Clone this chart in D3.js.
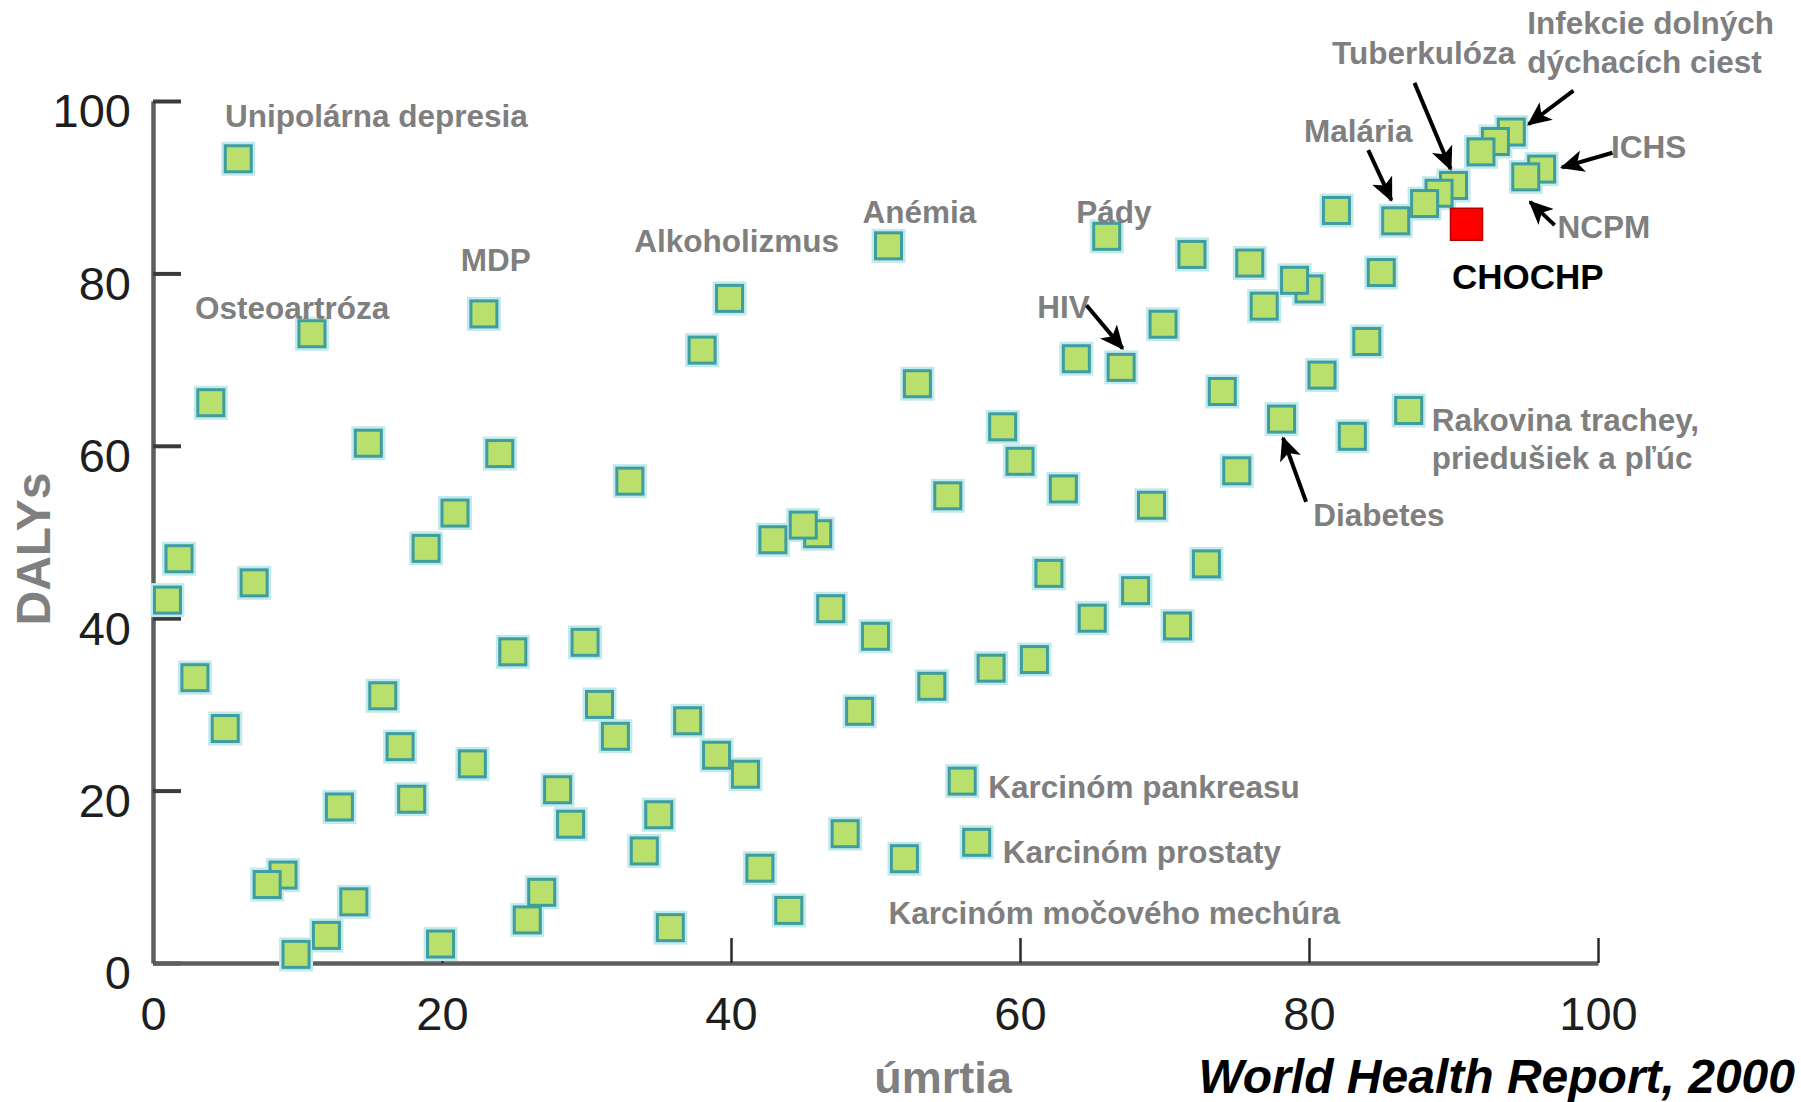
<!DOCTYPE html>
<html>
<head>
<meta charset="utf-8">
<script src="https://cdn.jsdelivr.net/npm/d3@7"></script>
<style>
  body { margin: 0; background: #fff; }
  text { font-family: "Liberation Sans", Arial, sans-serif; }
</style>
</head>
<body>
<div id="chart-container"></div>
<script>
// choroby: úmrtia (x) a DALYs (y), odčítané z obrázka
const umrtia = [5.9, 11.0, 22.9, 4.0, 14.9, 24.0, 33.0, 20.9, 18.9, 1.8, 7.0, 1.0, 24.9, 29.9, 2.9, 15.9,
    30.9, 5.0, 32.0, 17.1, 22.1, 28.0, 12.9, 17.9, 28.9, 34.0, 9.0, 7.9, 13.9, 26.9, 25.9, 12.0, 9.9, 19.9,
    35.8, 35.0, 37.0, 39.0, 41.0, 42.0, 44.0, 47.9, 52.0, 56.0, 57.0, 48.9, 53.9, 58.0, 61.0, 50.0, 46.9,
    42.9, 46.0, 45.0, 62.0, 68.0, 65.0, 70.9, 72.9, 39.9, 38.0, 50.9, 52.9, 55.0, 58.8, 60.0, 63.0, 63.9,
    67.0, 66.0, 69.1, 69.9, 71.9, 75.9, 80.0, 79.0, 76.9, 74.0, 75.0, 78.1, 80.9, 83.0, 84.0, 85.0, 86.9,
    81.9, 90.0, 89.0, 88.0, 86.0, 94.0, 92.9, 91.9, 96.1, 95.0];
const dalys = [93.3, 73.0, 75.3, 65.0, 60.3, 59.1, 55.9, 52.2, 48.1, 46.9, 44.1, 42.1, 36.1, 37.2, 33.1, 31.0,
    30.0, 27.2, 26.3, 25.1, 23.1, 20.1, 18.1, 19.0, 16.1, 13.0, 10.2, 9.1, 7.1, 8.2, 5.0, 3.2, 1.0, 2.2,
    4.1, 17.2, 28.1, 24.1, 21.9, 11.0, 6.1, 15.0, 12.1, 21.1, 14.0, 29.2, 32.1, 34.2, 35.2, 37.9, 41.1,
    49.1, 49.8, 50.8, 45.2, 43.2, 40.0, 39.1, 46.3, 77.1, 71.1, 83.2, 67.2, 54.2, 62.2, 58.2, 55.0, 70.1,
    69.1, 84.3, 53.1, 74.1, 82.2, 81.2, 78.2, 79.2, 76.2, 66.3, 57.1, 63.1, 68.2, 61.1, 72.1, 80.1, 64.1,
    87.3, 90.2, 89.3, 88.1, 86.1, 96.4, 95.3, 94.1, 92.1, 91.2];

// CHOCHP - zvýraznený bod
const chochp = { umrtia: 90.9, dalys: 85.7 };

const xTicks = [0, 20, 40, 60, 80, 100];
const yTicks = [0, 20, 40, 60, 80, 100];

// popisky: text, ľavý okraj a základná čiara v jednotkách osí
const labelTexts = ["Unipolárna depresia", "Osteoartróza", "MDP", "Alkoholizmus", "Anémia", "Pády", "HIV",
    "Malária", "Tuberkulóza", "Infekcie dolných", "dýchacích ciest", "ICHS", "NCPM",
    "Rakovina trachey,", "priedušiek a pľúc", "Diabetes", "Karcinóm pankreasu", "Karcinóm prostaty",
    "Karcinóm močového mechúra"];
const labelX = [4.98, 2.91, 21.3, 33.3, 49.1, 63.9, 61.2, 79.65, 81.6, 95.1, 95.1, 100.9, 97.2,
    88.5, 88.5, 80.3, 57.8, 58.8, 50.9];
const labelY = [97.0, 74.7, 80.3, 82.5, 85.9, 85.9, 74.8, 95.2, 104.3, 107.8, 103.2, 93.4, 84.1,
    61.7, 57.3, 50.75, 19.1, 11.6, 4.5];

// šípky: [x1, y1, x2, y2] v jednotkách osí
const arrows = [
    [64.6, 76.3, 67.1, 71.3],   // HIV
    [84.1, 94.3, 85.7, 88.5],   // Malária
    [87.3, 102.1, 89.8, 92.1],  // Tuberkulóza
    [98.3, 101.2, 95.2, 97.3],  // Infekcie
    [101.0, 94.0, 97.5, 92.3],  // ICHS
    [97.0, 85.6, 95.3, 88.3],   // NCPM
    [79.8, 53.5, 78.2, 60.9]    // Diabetes
];

const width = 1801;
const height = 1102;

const svg = d3.select("#chart-container")
    .append("svg")
    .attr("width", width)
    .attr("height", height)
    .style("background", "#fff");

const xScale = d3.scaleLinear().domain([0, 100]).range([153, 1598]);
const yScale = d3.scaleLinear().domain([0, 100]).range([963, 101]);

// arrow head
svg.append("defs").append("marker")
    .attr("id", "head")
    .attr("markerUnits", "userSpaceOnUse")
    .attr("markerWidth", 24)
    .attr("markerHeight", 22)
    .attr("refX", 22)
    .attr("refY", 11)
    .attr("orient", "auto")
    .append("path")
    .attr("d", "M0,0 L24,11 L0,22 L6,11 Z")
    .attr("fill", "#000");

// Y axis
const yAxis = svg.append("g")
    .attr("transform", `translate(${xScale(0)},0)`)
    .call(d3.axisLeft(yScale).tickValues(yTicks).tickSize(-28).tickSizeOuter(0).tickPadding(22));

// X axis
const xAxis = svg.append("g")
    .attr("transform", `translate(0,${yScale(0)})`)
    .call(d3.axisBottom(xScale).tickValues(xTicks).tickSize(-25).tickSizeOuter(0).tickPadding(34));

[yAxis, xAxis].forEach(ax => {
    ax.select(".domain").attr("stroke", "#5e5e5e").attr("stroke-width", 4.5);
    ax.selectAll(".tick text")
        .attr("fill", "#1e1e1e")
        .style("font-size", "47px");
});
yAxis.selectAll(".tick line").attr("stroke", "#3a3a3a").attr("stroke-width", 4);
yAxis.selectAll(".tick text").attr("dy", "0.55em");
xAxis.selectAll(".tick line").attr("stroke", "#2a2a2a").attr("stroke-width", 2.5);
xAxis.selectAll(".tick").filter(d => d === 0).select("line").remove();

// axis titles
svg.append("text")
    .attr("transform", "translate(50,549) rotate(-90)")
    .attr("text-anchor", "middle")
    .attr("fill", "#808080")
    .style("font-size", "48px")
    .style("font-weight", "bold")
    .text("DALYs");

svg.append("text")
    .attr("x", 943)
    .attr("y", 1093)
    .attr("text-anchor", "middle")
    .attr("fill", "#808080")
    .style("font-size", "45px")
    .style("font-weight", "bold")
    .text("úmrtia");

svg.append("text")
    .attr("x", 1795)
    .attr("y", 1093)
    .attr("text-anchor", "end")
    .attr("fill", "#000")
    .style("font-size", "48px")
    .style("font-weight", "bold")
    .style("font-style", "italic")
    .text("World Health Report, 2000");

// points
const points = umrtia.map((u, i) => ({ umrtia: u, dalys: dalys[i] }));
const side = 26;

const marks = svg.append("g");
marks.selectAll(".halo")
    .data(points)
    .enter()
    .append("rect")
    .attr("class", "halo")
    .attr("x", d => xScale(d.umrtia) - side / 2)
    .attr("y", d => yScale(d.dalys) - side / 2)
    .attr("width", side)
    .attr("height", side)
    .attr("fill", "none")
    .attr("stroke", "#c2e9ec")
    .attr("stroke-width", 8);

marks.selectAll(".pt")
    .data(points)
    .enter()
    .append("rect")
    .attr("class", "pt")
    .attr("x", d => xScale(d.umrtia) - side / 2)
    .attr("y", d => yScale(d.dalys) - side / 2)
    .attr("width", side)
    .attr("height", side)
    .attr("fill", "#b9e06c")
    .attr("stroke", "#3e9d9e")
    .attr("stroke-width", 3);

// CHOCHP
const redSide = 32;
svg.append("rect")
    .attr("x", xScale(chochp.umrtia) - redSide / 2)
    .attr("y", yScale(chochp.dalys) - redSide / 2)
    .attr("width", redSide)
    .attr("height", redSide)
    .attr("fill", "#ff0000")
    .attr("stroke", "#b30000")
    .attr("stroke-width", 1.5);

svg.append("text")
    .attr("x", xScale(89.9))
    .attr("y", yScale(78.2))
    .attr("fill", "#000")
    .style("font-size", "35px")
    .style("font-weight", "bold")
    .text("CHOCHP");

// labels
svg.append("g").selectAll("text")
    .data(labelTexts)
    .enter()
    .append("text")
    .attr("x", (d, i) => xScale(labelX[i]))
    .attr("y", (d, i) => yScale(labelY[i]))
    .attr("fill", "#7f7f7f")
    .style("font-size", "31.5px")
    .style("font-weight", "bold")
    .text(d => d);

// arrows
svg.append("g").selectAll("line")
    .data(arrows)
    .enter()
    .append("line")
    .attr("x1", d => xScale(d[0]))
    .attr("y1", d => yScale(d[1]))
    .attr("x2", d => xScale(d[2]))
    .attr("y2", d => yScale(d[3]))
    .attr("stroke", "#000")
    .attr("stroke-width", 4)
    .attr("marker-end", "url(#head)");
</script>
</body>
</html>
